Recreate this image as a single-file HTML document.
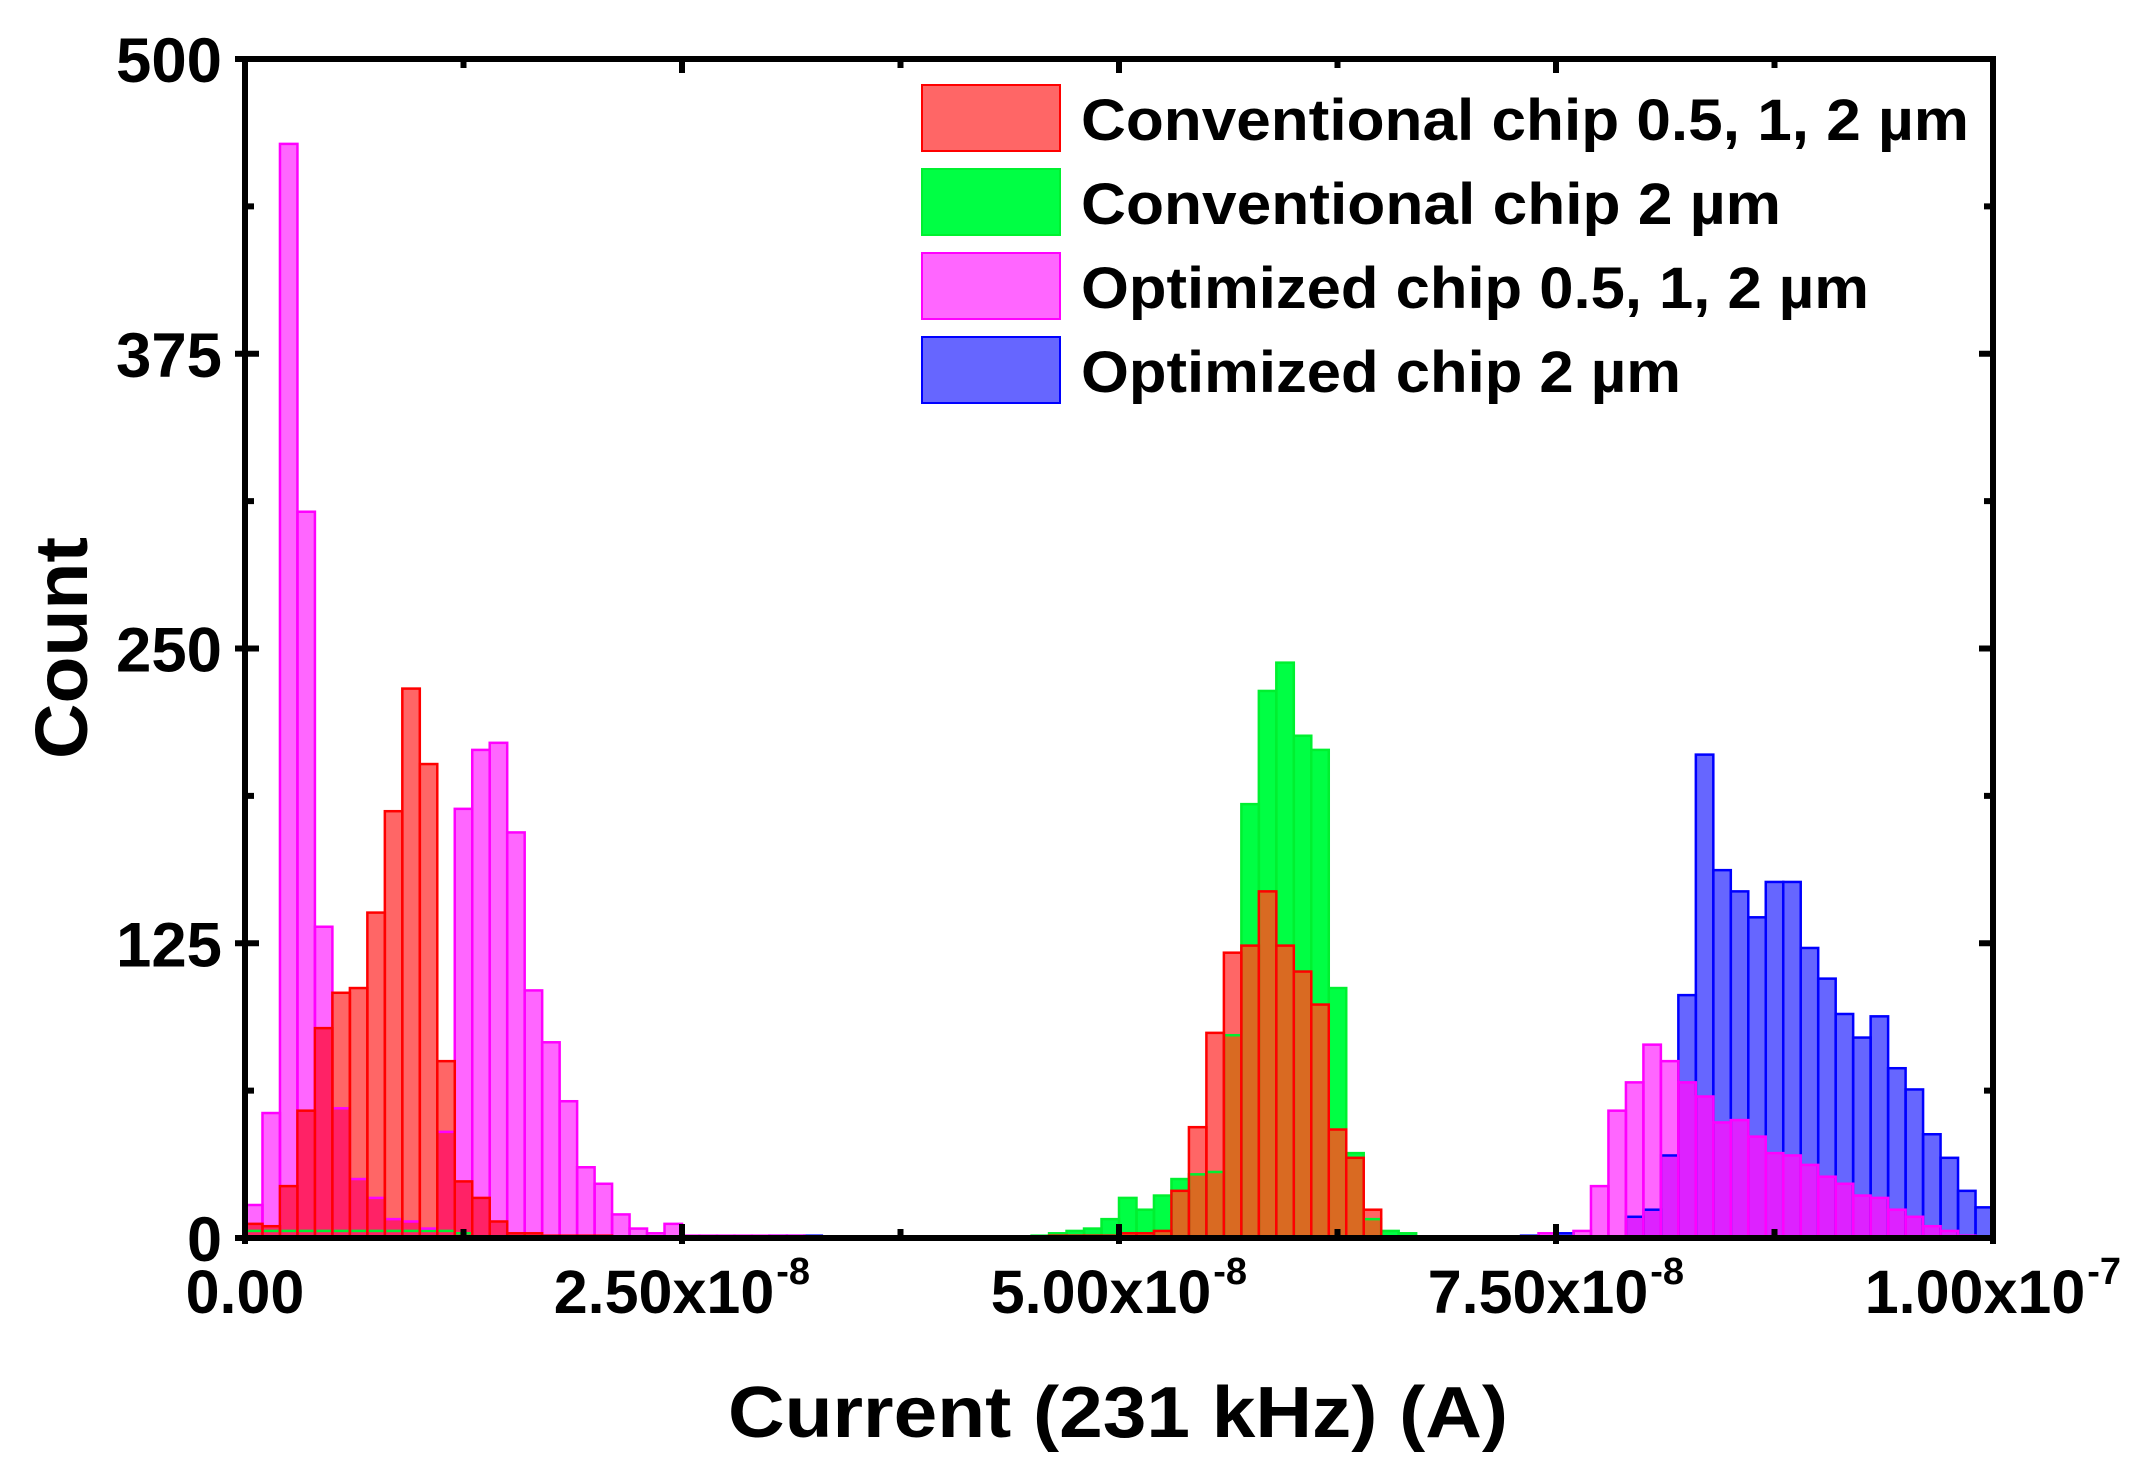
<!DOCTYPE html>
<html><head><meta charset="utf-8"><style>
html,body{margin:0;padding:0;background:#fff;}
svg{display:block;font-family:"Liberation Sans",Arial,sans-serif;font-weight:bold;}
</style></head><body>
<svg id="chart" width="2155" height="1484" viewBox="0 0 2155 1484">
<g id="bars"></g>
<g id="axes"></g>
<g id="legend"></g>
</svg>
<script>
// Data: 100 bins of width 1e-9 A from 0 to 1e-7
const binWidth = 1e-9;
const convAll = [6,5,22,54,89,104,106,138,181,233,201,75,24,17,7,2,2,1,1,1,1,0,0,0,0,0,0,0,0,0,0,0,0,0,0,0,0,0,0,0,0,0,0,0,0,0,1,1,1,1,2,2,3,20,47,87,121,124,147,124,113,99,46,34,12,0,0,0,0,0,0,0,0,0,0,0,0,0,0,0,0,0,0,0,0,0,0,0,0,0,0,0,0,0,0,0,0,0,0,0];
const conv2 = [3,3,3,3,3,3,3,3,3,3,3,3,2,0,0,0,0,0,0,0,0,0,0,0,0,0,0,0,0,0,0,0,0,0,0,0,0,0,0,0,0,0,0,0,0,1,2,3,4,8,17,12,18,25,27,28,86,184,232,244,213,207,106,36,8,3,2,0,0,0,0,0,0,0,0,0,0,0,0,0,0,0,0,0,0,0,0,0,0,0,0,0,0,0,0,0,0,0,0,0];
const optAll = [14,53,464,308,132,55,25,17,8,7,4,45,182,207,210,172,105,83,58,30,23,10,4,2,6,1,1,1,1,1,1,1,0,0,0,0,0,0,0,0,0,0,0,0,0,0,0,0,0,0,0,0,0,0,0,0,0,0,0,0,0,0,0,0,0,0,0,0,0,0,0,0,0,0,2,0,3,22,54,66,82,75,66,60,49,50,43,36,35,31,26,23,18,17,12,9,5,3,1,0];
const opt2 = [0,0,0,0,0,0,0,0,0,0,0,0,0,0,0,0,0,0,0,0,0,0,0,0,0,0,0,0,0,0,1,1,1,0,0,0,0,0,0,0,0,0,0,0,0,0,0,0,0,0,0,0,0,0,0,0,0,0,0,0,0,0,0,0,0,0,0,0,0,0,0,0,0,1,0,2,0,0,0,9,12,35,103,205,156,147,136,151,151,123,110,95,85,94,72,63,44,34,20,13];
const xTickVals = [0, 2.5e-8, 5e-8, 7.5e-8, 1e-7];
const xTickLabels = ["0.00","2.50x10","5.00x10","7.50x10","1.00x10"];
const xTickExp = ["","-8","-8","-8","-7"];
const yTickVals = [0,125,250,375,500];
const legendLabels = ["Conventional chip 0.5, 1, 2 µm","Conventional chip 2 µm","Optimized chip 0.5, 1, 2 µm","Optimized chip 2 µm"];

const NS="http://www.w3.org/2000/svg";
const L=245,R=1993,T=59,B=1238;
const xMax=1e-7,yMax=500;
function xs(v){return L+(v/xMax)*(R-L);}
function ys(v){return B-(v/yMax)*(B-T);}
function mk(tag,attrs,parent){const e=document.createElementNS(NS,tag);for(const k in attrs)e.setAttribute(k,attrs[k]);parent.appendChild(e);return e;}

const bars=document.getElementById('bars');
const series=[
 {data:conv2,fill:"#00ff44",stroke:"#00f030",name:"conventional-2um"},
 {data:opt2,fill:"#6666ff",stroke:"#0000ff",name:"optimized-2um"},
 {data:optAll,fill:"#ff66ff",stroke:"#ff00ff",name:"optimized-all"},
 {data:convAll,fill:"#ff6666",stroke:"#ff0000",name:"conventional-all"}
];
const overlaps=[
 {a:conv2,b:convAll,fill:"#d96a22",name:"overlap-green-red"},
 {a:opt2,b:optAll,fill:"#dd22ff",name:"overlap-blue-magenta"},
 {a:optAll,b:convAll,fill:"#ff2266",name:"overlap-magenta-red"}
];
function binRect(i,v,attrs,g,name){
 const x0=xs(i*binWidth),x1=xs((i+1)*binWidth);
 const a=Object.assign({x:x0,y:ys(v),width:x1-x0,height:ys(0)-ys(v)},attrs);
 const r=mk('rect',a,g);
 
 
}
series.forEach(s=>{
 const g=mk('g',{},bars);
 
 
 s.data.forEach((v,i)=>{ if(v>0) binRect(i,v,{fill:s.fill},g,'bar-'+s.name+'-'+i); });
});
overlaps.forEach(o=>{
 const g=mk('g',{},bars);
 
 
 o.a.forEach((v,i)=>{ const m=Math.min(v,o.b[i]); if(m>0) binRect(i,m,{fill:o.fill},g,o.name+'-'+i); });
});
series.forEach(s=>{
 const g=mk('g',{},bars);
 
 
 s.data.forEach((v,i)=>{ if(v>0) binRect(i,v,{fill:'none',stroke:s.stroke,'stroke-width':2.5},g,'bar-outline-'+s.name+'-'+i); });
});

const ax=document.getElementById('axes');
const frame=mk('rect',{x:L,y:T,width:R-L,height:B-T,fill:'none',stroke:'#000','stroke-width':6},ax);


for(let k=0;k<=8;k++){
 const v=k*1.25e-8,x=xs(v),len=(k%2==0)?14:9;
 mk('line',{x1:x,y1:B-len,x2:x,y2:B+(k%2==0?6:0),stroke:'#000','stroke-width':6},ax);
 mk('line',{x1:x,y1:T,x2:x,y2:T+len,stroke:'#000','stroke-width':6},ax);
}
for(let k=0;k<=8;k++){
 const v=k*62.5,y=ys(v),len=(k%2==0)?14:9;
 mk('line',{x1:L-(k%2==0?10:0),y1:y,x2:L+len,y2:y,stroke:'#000','stroke-width':6},ax);
 mk('line',{x1:R-len,y1:y,x2:R,y2:y,stroke:'#000','stroke-width':6},ax);
}
xTickVals.forEach((v,i)=>{
 const t=mk('text',{x:xs(v)-(i==0?0:18),y:1313,'font-size':61,'text-anchor':'middle',fill:'#000'},ax);
 t.textContent=xTickLabels[i];
 
 
 if(xTickExp[i]){
  const bb=t.getBBox();
  const e=mk('text',{x:bb.x+bb.width+2,y:1284,'font-size':38,fill:'#000'},ax);
  e.textContent=xTickExp[i];
  
  
 }
});
yTickVals.forEach((v,i)=>{
 const s=String(v);
 const t=mk('text',{x:222,y:ys(v)+23,'font-size':63,'text-anchor':'end',fill:'#000'},ax);
 if(s.length==3){t.setAttribute('textLength',106);t.setAttribute('lengthAdjust','spacingAndGlyphs');}
 t.textContent=s;
 
 
});
const xt=mk('text',{x:1118,y:1437,'font-size':72,'text-anchor':'middle',textLength:780,lengthAdjust:'spacingAndGlyphs',fill:'#000'},ax);
xt.textContent="Current (231 kHz) (A)";


const yt=mk('text',{x:0,y:0,'font-size':74,'text-anchor':'middle',textLength:222,lengthAdjust:'spacingAndGlyphs',fill:'#000',transform:'translate(87,648) rotate(-90)'},ax);
yt.textContent="Count";



const lg=document.getElementById('legend');
const legendFill=["#ff6666","#00ff44","#ff66ff","#6666ff"];
const legendStroke=["#ff0000","#00f030","#ff00ff","#0000ff"];
const legendW=[888,700,788,600];
legendLabels.forEach((s,i)=>{
 const y0=85+i*84;
 const g=mk('g',{},lg);
 
 
 mk('rect',{x:922,y:y0,width:138,height:66,fill:legendFill[i],stroke:legendStroke[i],'stroke-width':2},g);
 const t=mk('text',{x:1081,y:y0+55,'font-size':58,textLength:legendW[i],lengthAdjust:'spacingAndGlyphs',fill:'#000'},g);
 t.textContent=s;
});
</script>
</body></html>
